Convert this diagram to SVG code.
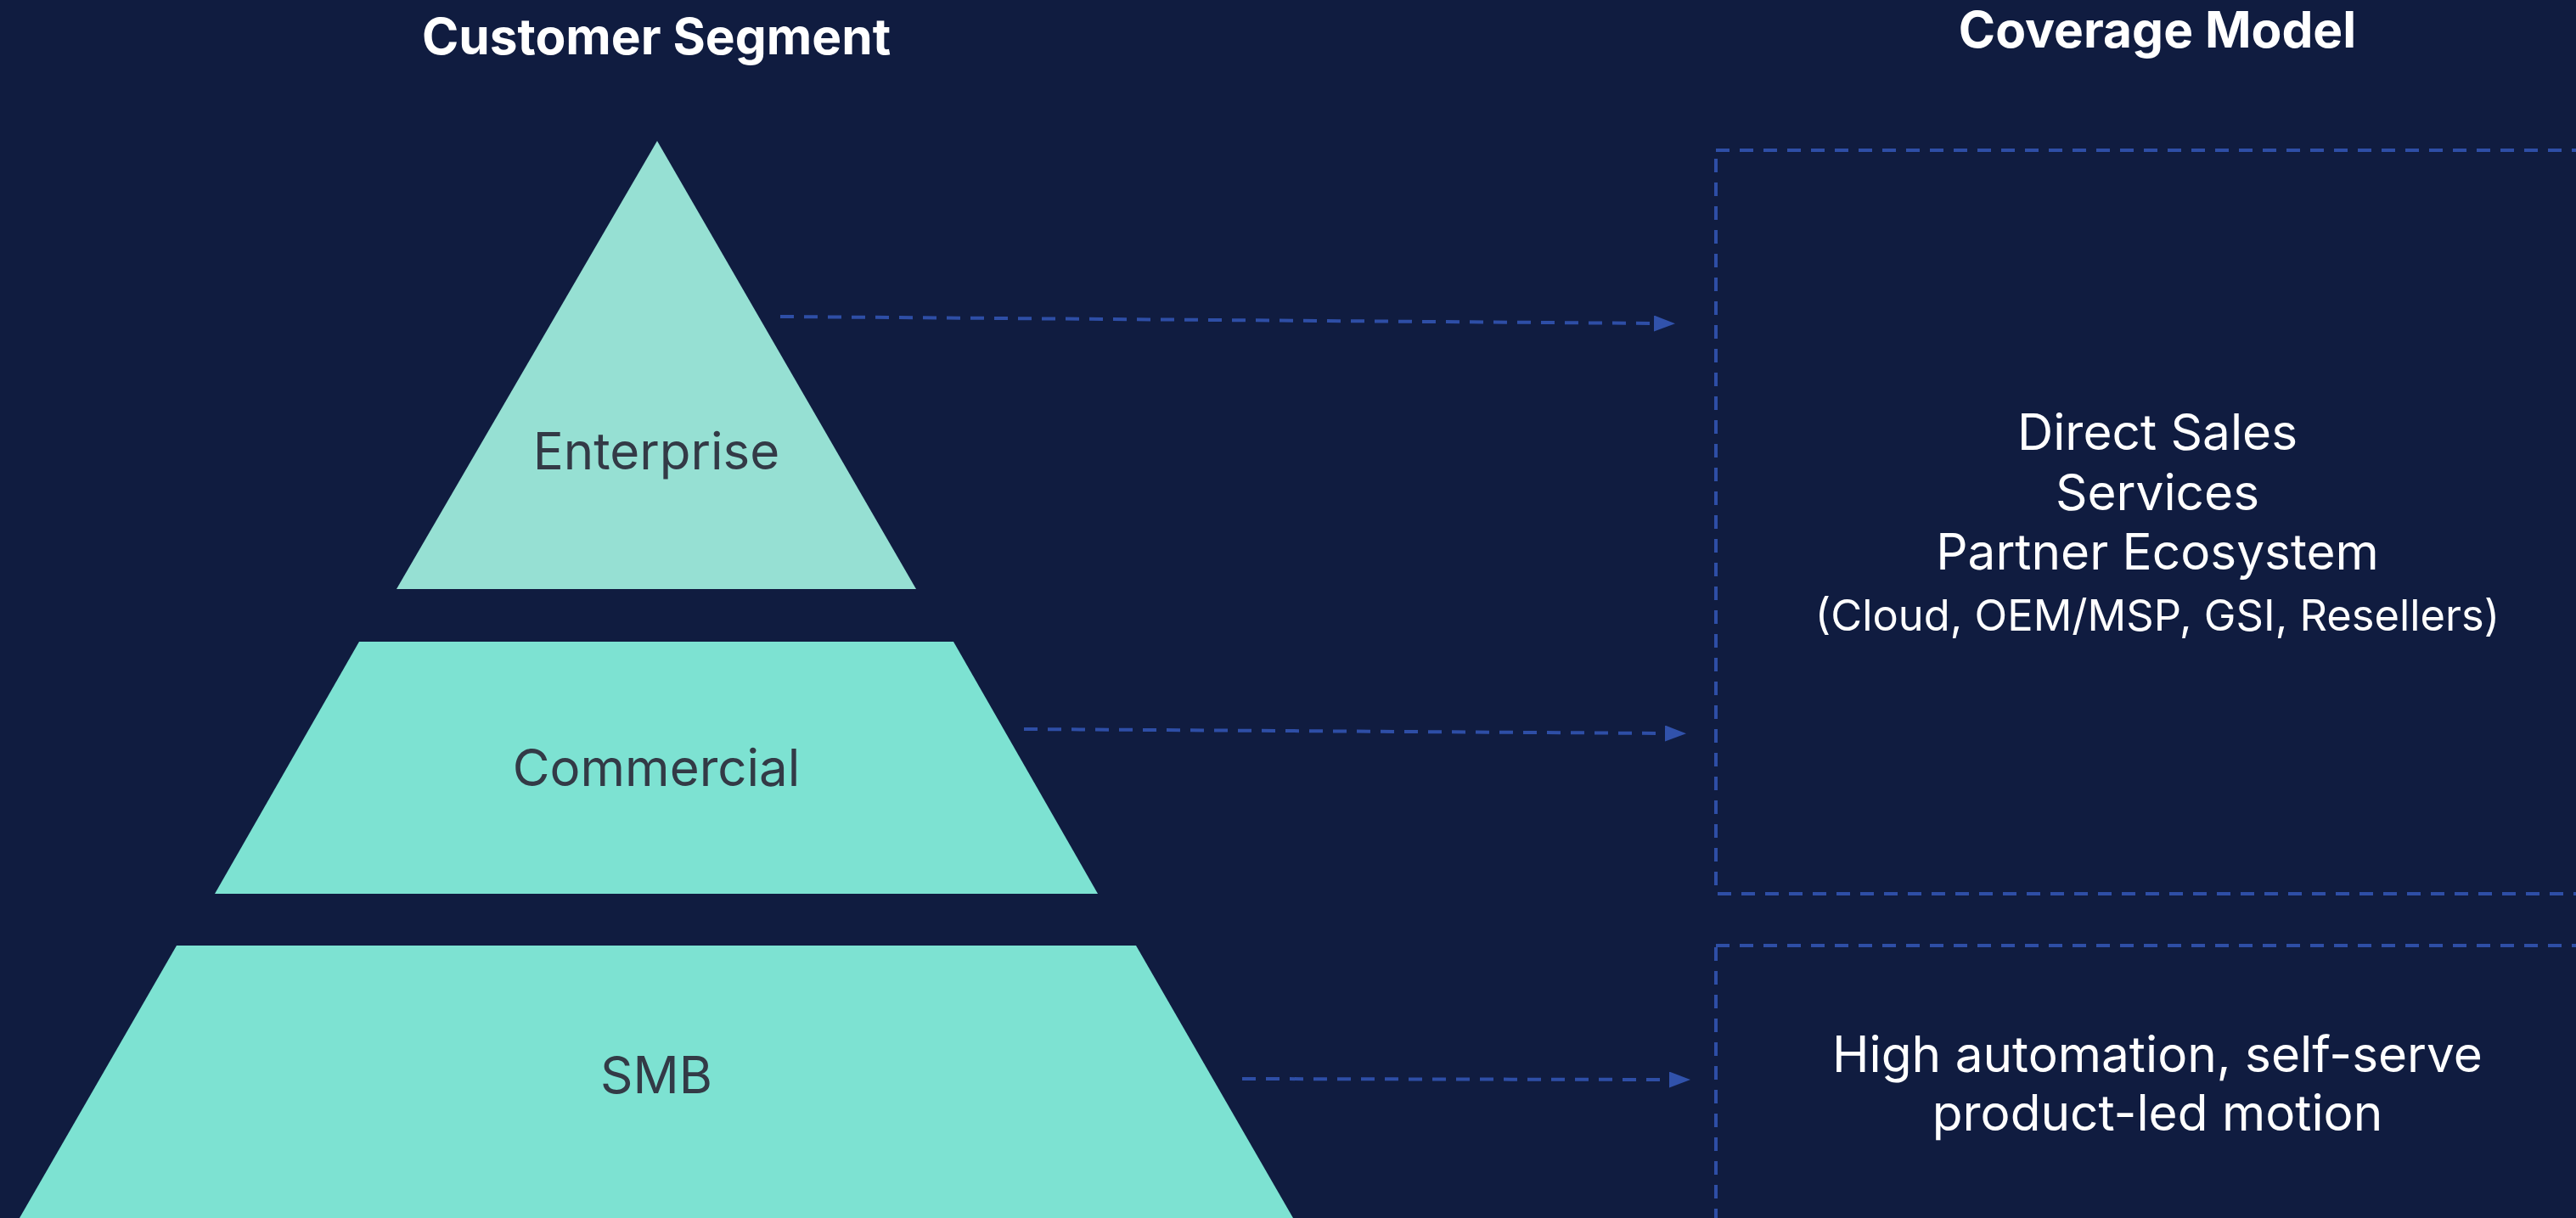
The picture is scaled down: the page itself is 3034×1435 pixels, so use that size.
<svg xmlns="http://www.w3.org/2000/svg" width="3034" height="1435" viewBox="0 0 3034 1435">
<defs>
<style>
.title{font-family:Inter,"Noto Sans","Liberation Sans",sans-serif;font-weight:700;font-size:58.6px;fill:#ffffff;text-anchor:middle}
.seg{font-family:Inter,"Noto Sans","Liberation Sans",sans-serif;font-weight:400;font-size:60px;fill:#333a46;text-anchor:middle}
.cov{font-family:Inter,"Noto Sans","Liberation Sans",sans-serif;font-weight:400;font-size:58.5px;fill:#ffffff;text-anchor:middle}
.covs{font-family:Inter,"Noto Sans","Liberation Sans",sans-serif;font-weight:400;font-size:50.6px;fill:#ffffff;text-anchor:middle}
.box{fill:none;stroke:#2e4ea6;stroke-width:4;stroke-dasharray:16 12}
.conn{fill:none;stroke:#2e4ea6;stroke-width:4;stroke-dasharray:16 12}
</style>
<marker id="ah" markerUnits="userSpaceOnUse" markerWidth="26" markerHeight="20" refX="0" refY="9.5" orient="auto">
<path d="M0,0 L25,9.5 L0,19 Z" fill="#3152ab"/>
</marker>
</defs>
<rect x="0" y="0" width="3034" height="1435" fill="#101c40"/>
<text class="title" x="773" y="64">Customer Segment</text>
<text class="title" x="2541" y="56">Coverage Model</text>
<g id="enterprise">
<polygon points="774,166 1079,694 467,694" fill="#96e0d3"/>
<text class="seg" x="773" y="553">Enterprise</text>
</g>
<g id="commercial">
<polygon points="423,756 1123,756 1293,1053 253,1053" fill="#7de2d2"/>
<text class="seg" x="773" y="926">Commercial</text>
</g>
<g id="smb">
<polygon points="208,1114 1338,1114 1523,1435 23,1435" fill="#7de2d2"/>
<text class="seg" x="773" y="1288">SMB</text>
</g>
<g id="coverage-direct">
<rect class="box" x="2021" y="177" width="1041" height="876"/>
<text class="cov" x="2541" y="530">Direct Sales</text>
<text class="cov" x="2541" y="601">Services</text>
<text class="cov" x="2541" y="671">Partner Ecosystem</text>
<text class="covs" x="2541" y="743">(Cloud, OEM/MSP, GSI, Resellers)</text>
</g>
<g id="coverage-self-serve">
<rect class="box" x="2021" y="1114" width="1041" height="368"/>
<text class="cov" x="2541" y="1263">High automation, self-serve</text>
<text class="cov" x="2541" y="1332">product-led motion</text>
</g>
<g id="connectors">
<line class="conn" x1="919" y1="373" x2="1948" y2="381" marker-end="url(#ah)"/>
<line class="conn" x1="1206" y1="859" x2="1961" y2="864" marker-end="url(#ah)"/>
<line class="conn" x1="1463" y1="1271" x2="1966" y2="1272" marker-end="url(#ah)"/>
</g>
</svg>
